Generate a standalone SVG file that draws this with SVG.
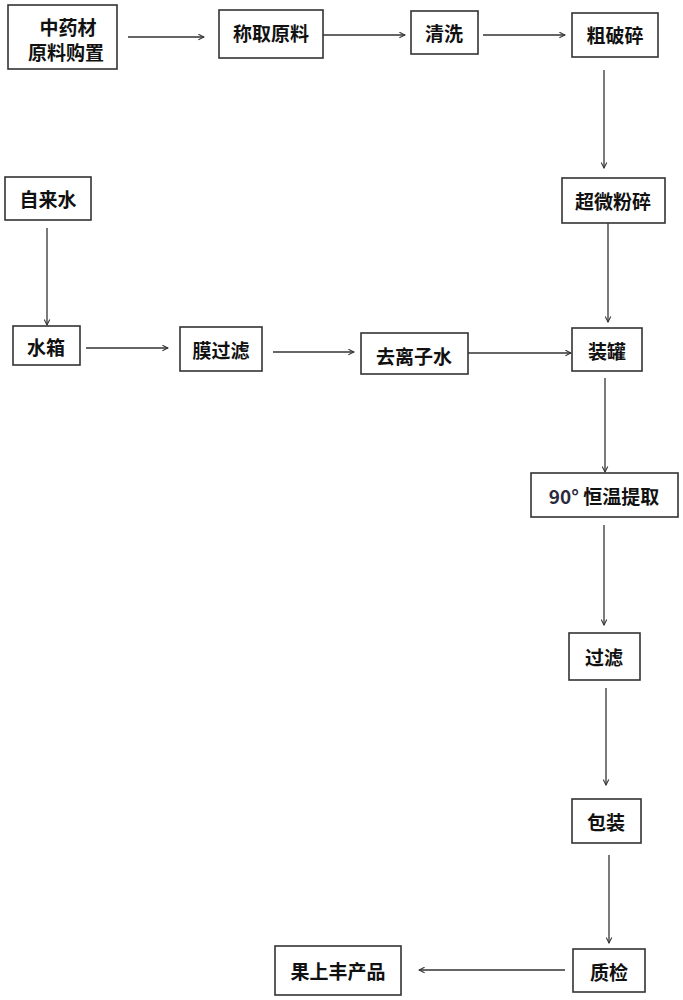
<svg xmlns="http://www.w3.org/2000/svg" width="683" height="1000" viewBox="0 0 683 1000">
<defs>
<style>
.b{fill:#fff;stroke:#333;stroke-width:1.6}
.t{font-family:"Noto Sans CJK SC","Noto Sans",sans-serif;font-weight:bold;font-size:19px;fill:#111;text-anchor:middle;dominant-baseline:central}
.c line{stroke:#333;stroke-width:1.3;marker-end:url(#a)}
</style>
<marker id="a" viewBox="0 0 10 10" refX="9" refY="5" markerWidth="7" markerHeight="7" markerUnits="userSpaceOnUse" orient="auto">
<polyline points="1,1 9,5 1,9" fill="none" stroke="#333" stroke-width="1.5"/>
</marker>
</defs>
<rect width="683" height="1000" fill="#fff"/>
<g class="c" id="connectors">
<line x1="128" y1="37" x2="204" y2="37"/>
<line x1="323" y1="35" x2="405" y2="35"/>
<line x1="483" y1="35" x2="565" y2="35"/>
<line x1="604" y1="70" x2="604" y2="168"/>
<line x1="608" y1="223" x2="608" y2="322"/>
<line x1="47" y1="228" x2="47" y2="325"/>
<line x1="86" y1="348" x2="168" y2="348"/>
<line x1="273" y1="352" x2="354" y2="352"/>
<line x1="468" y1="353" x2="571" y2="353"/>
<line x1="605" y1="378" x2="605" y2="472"/>
<line x1="604" y1="525" x2="604" y2="625"/>
<line x1="606" y1="688" x2="606" y2="785"/>
<line x1="609" y1="855" x2="609" y2="943"/>
<line x1="565" y1="970" x2="419" y2="970"/>
</g>
<g id="n1"><rect class="b" x="8" y="5" width="109" height="64"/><text class="t" x="68" y="26">中药材</text><text class="t" x="66" y="51">原料购置</text></g>
<g id="n2"><rect class="b" x="219" y="10" width="104" height="48"/><text class="t" x="271" y="32">称取原料</text></g>
<g id="n3"><rect class="b" x="411" y="11" width="67" height="43"/><text class="t" x="444" y="32">清洗</text></g>
<g id="n4"><rect class="b" x="572" y="13" width="86" height="44"/><text class="t" x="615" y="34">粗破碎</text></g>
<g id="n5"><rect class="b" x="562" y="178" width="103" height="45"/><text class="t" x="613" y="200">超微粉碎</text></g>
<g id="n6"><rect class="b" x="5" y="177" width="86" height="43"/><text class="t" x="48" y="198">自来水</text></g>
<g id="n7"><rect class="b" x="13" y="326" width="67" height="39"/><text class="t" x="46" y="346">水箱</text></g>
<g id="n8"><rect class="b" x="180" y="327" width="82" height="44"/><text class="t" x="221" y="349">膜过滤</text></g>
<g id="n9"><rect class="b" x="361" y="333" width="107" height="41"/><text class="t" x="414" y="355">去离子水</text></g>
<g id="n10"><rect class="b" x="572" y="328" width="70" height="43"/><text class="t" x="607" y="350">装罐</text></g>
<g id="n11"><rect class="b" x="531" y="473" width="147" height="44"/><text class="t" x="604" y="495"><tspan fill="#2b2b3d">90°</tspan> 恒温提取</text></g>
<g id="n12"><rect class="b" x="569" y="633" width="71" height="47"/><text class="t" x="604" y="656">过滤</text></g>
<g id="n13"><rect class="b" x="572" y="799" width="69" height="44"/><text class="t" x="606" y="821">包装</text></g>
<g id="n14"><rect class="b" x="573" y="949" width="72" height="43"/><text class="t" x="609" y="971">质检</text></g>
<g id="n15"><rect class="b" x="275" y="946" width="126" height="49"/><text class="t" x="338" y="970">果上丰产品</text></g>
</svg>
